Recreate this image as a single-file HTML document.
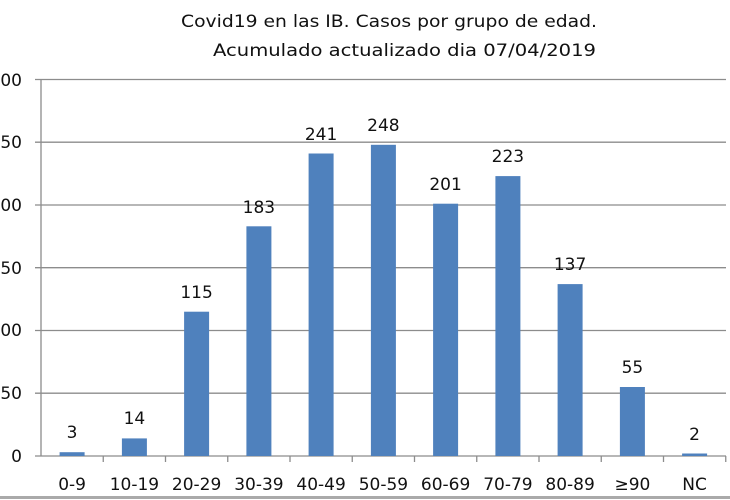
<!DOCTYPE html>
<html><head><meta charset="utf-8"><style>
html,body{margin:0;padding:0;background:#fff;}
svg{display:block;font-family:"DejaVu Sans","Liberation Sans",sans-serif;}
</style></head><body>
<svg width="730" height="500" viewBox="0 0 730 500" xmlns="http://www.w3.org/2000/svg">
<rect width="730" height="500" fill="#fff"/>
<text x="181" y="27" font-size="17" textLength="416" lengthAdjust="spacingAndGlyphs" fill="#111">Covid19 en las IB.  Casos por grupo de edad.</text>
<text x="213" y="56" font-size="17" textLength="383" lengthAdjust="spacingAndGlyphs" fill="#111">Acumulado actualizado dia 07/04/2019</text>
<g stroke="#8c8c8c" stroke-width="1.3">
<line x1="35" y1="79.5" x2="726" y2="79.5"/>
<line x1="35" y1="142.2" x2="726" y2="142.2"/>
<line x1="35" y1="205" x2="726" y2="205"/>
<line x1="35" y1="267.7" x2="726" y2="267.7"/>
<line x1="35" y1="330.5" x2="726" y2="330.5"/>
<line x1="35" y1="393.2" x2="726" y2="393.2"/>
<line x1="35" y1="456" x2="726" y2="456"/>
<line x1="41" y1="79" x2="41" y2="456"/>
</g>
<g stroke="#8c8c8c" stroke-width="1.3">
<line x1="103.25" y1="456" x2="103.25" y2="462"/>
<line x1="165.5" y1="456" x2="165.5" y2="462"/>
<line x1="227.75" y1="456" x2="227.75" y2="462"/>
<line x1="290" y1="456" x2="290" y2="462"/>
<line x1="352.25" y1="456" x2="352.25" y2="462"/>
<line x1="414.5" y1="456" x2="414.5" y2="462"/>
<line x1="476.75" y1="456" x2="476.75" y2="462"/>
<line x1="539" y1="456" x2="539" y2="462"/>
<line x1="601.25" y1="456" x2="601.25" y2="462"/>
<line x1="663.5" y1="456" x2="663.5" y2="462"/>
<line x1="725.75" y1="456" x2="725.75" y2="462"/>
</g>
<line x1="0" y1="497.5" x2="730" y2="497.5" stroke="#aaa" stroke-width="3"/>
<g font-size="17" fill="#111" text-anchor="end">
<text x="22" y="86">300</text>
<text x="22" y="148">250</text>
<text x="22" y="211">200</text>
<text x="22" y="274">150</text>
<text x="22" y="336">100</text>
<text x="22" y="399">50</text>
<text x="22" y="462">0</text>
</g>
<g fill="#4f81bd">
<rect x="59.6" y="452.2" width="25" height="3.8"/>
<rect x="121.9" y="438.4" width="25" height="17.6"/>
<rect x="184.1" y="311.7" width="25" height="144.3"/>
<rect x="246.4" y="226.3" width="25" height="229.7"/>
<rect x="308.6" y="153.5" width="25" height="302.5"/>
<rect x="370.9" y="144.8" width="25" height="311.2"/>
<rect x="433.1" y="203.7" width="25" height="252.3"/>
<rect x="495.4" y="176.1" width="25" height="279.9"/>
<rect x="557.6" y="284.1" width="25" height="171.9"/>
<rect x="619.9" y="387" width="25" height="69"/>
<rect x="682.1" y="453.5" width="25" height="2.5"/>
</g>
<g font-size="17" fill="#111" text-anchor="middle">
<text x="72.1" y="438">3</text>
<text x="134.4" y="424">14</text>
<text x="196.6" y="298">115</text>
<text x="258.9" y="213">183</text>
<text x="321.1" y="140">241</text>
<text x="383.4" y="131">248</text>
<text x="445.6" y="190">201</text>
<text x="507.9" y="162">223</text>
<text x="570.1" y="270">137</text>
<text x="632.4" y="373">55</text>
<text x="694.6" y="440">2</text>
</g>
<g font-size="17" fill="#111" text-anchor="middle">
<text x="72.1" y="490">0-9</text>
<text x="134.4" y="490">10-19</text>
<text x="196.6" y="490">20-29</text>
<text x="258.9" y="490">30-39</text>
<text x="321.1" y="490">40-49</text>
<text x="383.4" y="490">50-59</text>
<text x="445.6" y="490">60-69</text>
<text x="507.9" y="490">70-79</text>
<text x="570.1" y="490">80-89</text>
<text x="632.4" y="490">≥90</text>
<text x="694.6" y="490">NC</text>
</g>
</svg>
</body></html>
